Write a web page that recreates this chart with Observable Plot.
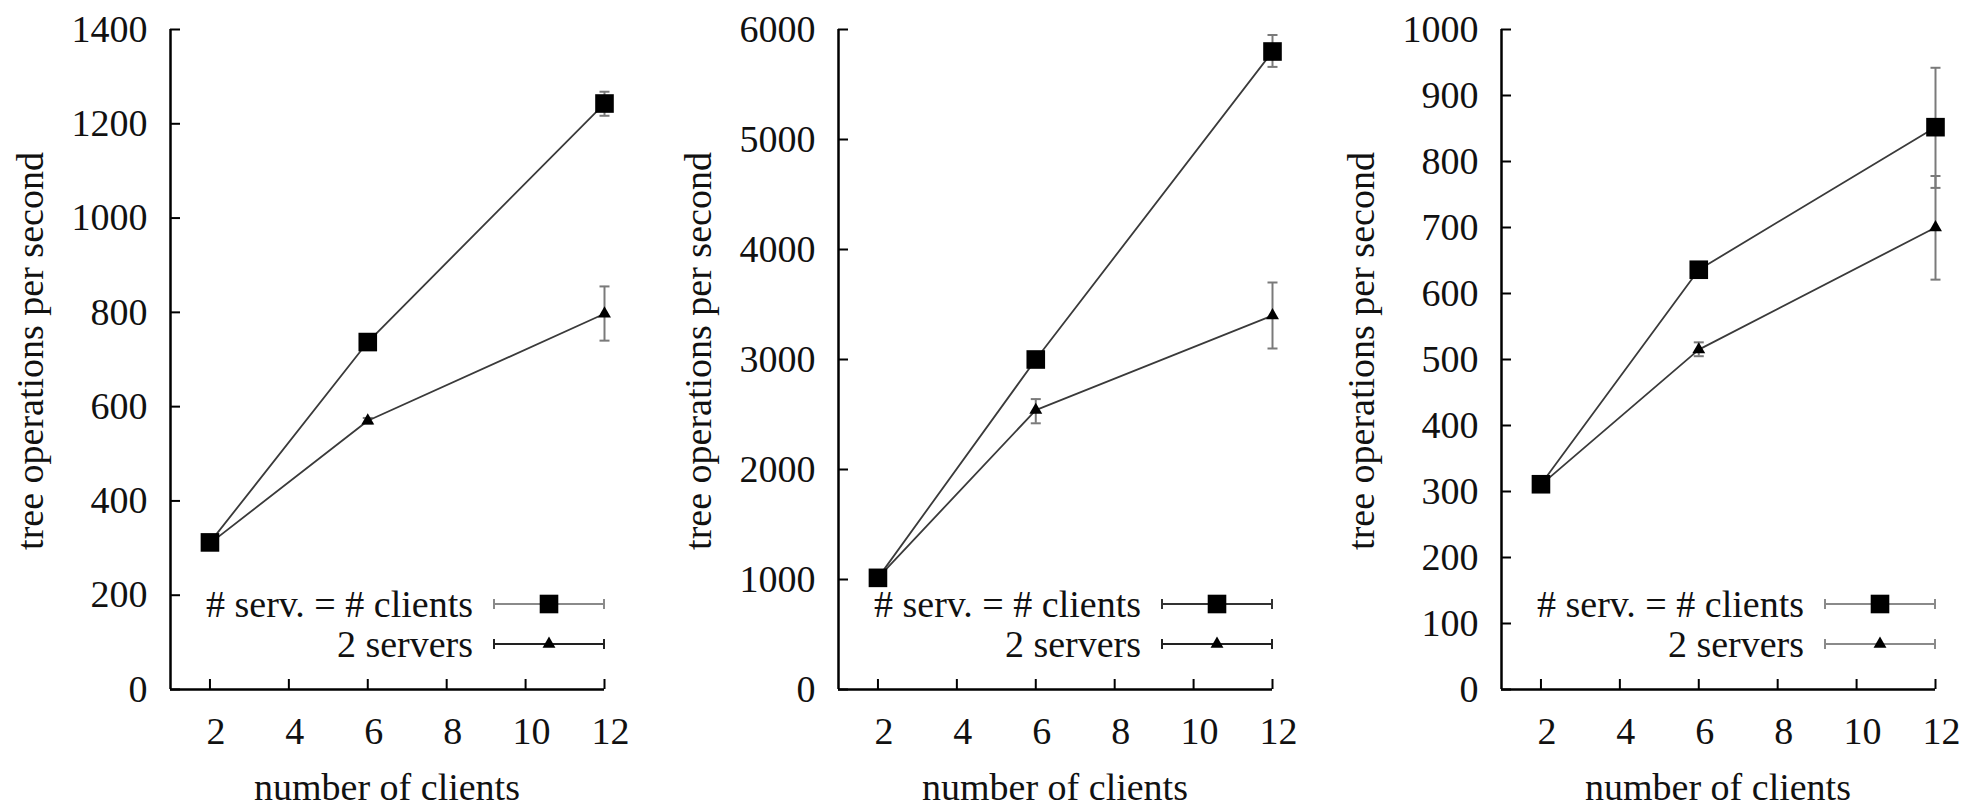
<!DOCTYPE html>
<html><head><meta charset="utf-8">
<script src="https://cdn.jsdelivr.net/npm/d3@7"></script>
<script src="https://cdn.jsdelivr.net/npm/@observablehq/plot@0.6"></script>
<style>
html,body{margin:0;padding:0;background:#fff;overflow:hidden;}
#wrap{position:relative;width:1963px;height:806px;}
#wrap svg{position:absolute;top:0;}
</style></head><body><div id="wrap"></div>
<script>
// ---- data ----
const clients = [2, 6, 12];
const seriesNames = ["# serv. = # clients", "2 servers"];
const xTicks = [2, 4, 6, 8, 10, 12];
const xLabel = "number of clients";
const yLabel = "tree operations per second";

// panel 1
const p1Equal   = [312, 737, 1243];
const p1EqualLo = [308, 730, 1217];
const p1EqualHi = [316, 744, 1268];
const p1Two     = [310, 570, 797];
const p1TwoLo   = [306, 564, 740];
const p1TwoHi   = [314, 576, 855];
const p1YTicks  = [0, 200, 400, 600, 800, 1000, 1200, 1400];

// panel 2
const p2Equal   = [1015, 3000, 5800];
const p2EqualLo = [990, 2960, 5660];
const p2EqualHi = [1040, 3040, 5950];
const p2Two     = [1015, 2540, 3400];
const p2TwoLo   = [990, 2420, 3100];
const p2TwoHi   = [1040, 2640, 3700];
const p2YTicks  = [0, 1000, 2000, 3000, 4000, 5000, 6000];

// panel 3
const p3Equal   = [311, 636, 852];
const p3EqualLo = [307, 627, 760];
const p3EqualHi = [315, 646, 942];
const p3Two     = [310, 515, 700];
const p3TwoLo   = [306, 505, 621];
const p3TwoHi   = [314, 526, 778];
const p3YTicks  = [0, 100, 200, 300, 400, 500, 600, 700, 800, 900, 1000];

const panels = [
  {left: 0,    width: 655, mr: 51, eq: [p1Equal, p1EqualLo, p1EqualHi], two: [p1Two, p1TwoLo, p1TwoHi], yTicks: p1YTicks, legendStroke: ["#8a8a8a", "#222"]},
  {left: 668,  width: 655, mr: 51, eq: [p2Equal, p2EqualLo, p2EqualHi], two: [p2Two, p2TwoLo, p2TwoHi], yTicks: p2YTicks, legendStroke: ["#333", "#222"]},
  {left: 1331, width: 632, mr: 28, eq: [p3Equal, p3EqualLo, p3EqualHi], two: [p3Two, p3TwoLo, p3TwoHi], yTicks: p3YTicks, legendStroke: ["#8a8a8a", "#8a8a8a"]}
];

// ---- drawing ----
const FONT = "'Liberation Serif', 'DejaVu Serif', serif";
const H = 806, MT = 29, MB = 117, ML = 170;
const cap = {draw(ctx, size) { const r = Math.sqrt(size / Math.PI); ctx.moveTo(-r, 0); ctx.lineTo(r, 0); }};
const SQ_R = 10.5, TR_R = 4.8;
const lineColor = "#3a3a3a", errColor = "#7a7a7a";

const wrap = document.getElementById("wrap");

panels.forEach(p => {
  const rows = [];
  clients.forEach((c, i) => {
    rows.push({x: c, y: p.eq[0][i], lo: p.eq[1][i], hi: p.eq[2][i], s: seriesNames[0]});
  });
  clients.forEach((c, i) => {
    rows.push({x: c, y: p.two[0][i], lo: p.two[1][i], hi: p.two[2][i], s: seriesNames[1]});
  });
  const eqRows = rows.filter(d => d.s === seriesNames[0]);
  const twoRows = rows.filter(d => d.s === seriesNames[1]);
  const frameW = p.width - ML - p.mr, frameH = H - MT - MB;
  const yMax = p.yTicks[p.yTicks.length - 1];

  const chart = Plot.plot({
    width: p.width, height: H,
    marginLeft: ML, marginRight: p.mr, marginTop: MT, marginBottom: MB,
    style: {fontFamily: FONT, fontSize: "38px", color: "#111", background: "transparent", overflow: "visible"},
    x: {domain: [1, 12]},
    y: {domain: [0, yMax]},
    marks: [
      Plot.axisY({ticks: p.yTicks, tickSize: 0, tickPadding: 23, tickFormat: d3.format("d"), label: null}),
      Plot.axisX({ticks: xTicks, tickSize: 0, tickPadding: 28, tickFormat: d3.format("d"), label: null, dx: 6}),
      Plot.tickY(p.yTicks, {y: d => d, insetRight: frameW - 10, stroke: "#000", strokeWidth: 2}),
      Plot.tickX(xTicks, {x: d => d, insetTop: frameH - 10, stroke: "#000", strokeWidth: 2}),
      Plot.ruleX([1], {stroke: "#000", strokeWidth: 2.5}),
      Plot.ruleY([0], {stroke: "#000", strokeWidth: 2.5}),
      Plot.ruleX(rows, {x: "x", y1: "lo", y2: "hi", stroke: errColor, strokeWidth: 2}),
      Plot.dot(rows, {x: "x", y: "lo", symbol: cap, r: 5, fill: "none", stroke: errColor, strokeWidth: 2}),
      Plot.dot(rows, {x: "x", y: "hi", symbol: cap, r: 5, fill: "none", stroke: errColor, strokeWidth: 2}),
      Plot.line(rows, {x: "x", y: "y", z: "s", stroke: lineColor, strokeWidth: 1.8}),
      Plot.dot(eqRows, {x: "x", y: "y", symbol: "square", r: SQ_R, fill: "#000"}),
      Plot.dot(twoRows, {x: "x", y: "y", symbol: "triangle", r: TR_R, fill: "#000"})
    ]
  });
  chart.style.left = p.left + "px";
  wrap.appendChild(chart);

  const svg = d3.select(chart);
  const xr = p.width - p.mr, yb = H - MB;
  // axis titles
  svg.append("text").attr("transform", `translate(43,351) rotate(-90)`)
    .attr("text-anchor", "middle").attr("font-family", FONT).attr("font-size", 38).attr("fill", "#111")
    .text(yLabel);
  svg.append("text").attr("x", ML + frameW / 2).attr("y", 800)
    .attr("text-anchor", "middle").attr("font-family", FONT).attr("font-size", 38).attr("fill", "#111")
    .text(xLabel);
  // legend
  const rowsY = [yb - 85, yb - 45];
  const syms = [d3.symbol(d3.symbolSquare, SQ_R * SQ_R * Math.PI), d3.symbol(d3.symbolTriangle, TR_R * TR_R * Math.PI)];
  seriesNames.forEach((name, i) => {
    const g = svg.append("g");
    const y = rowsY[i];
    g.append("text").attr("x", xr - 131).attr("y", y + 13).attr("text-anchor", "end")
      .attr("font-family", FONT).attr("font-size", 38).attr("fill", "#111").text(name);
    const st = p.legendStroke[i];
    g.append("line").attr("x1", xr - 110).attr("x2", xr).attr("y1", y).attr("y2", y).attr("stroke", st).attr("stroke-width", 2);
    [xr - 110, xr].forEach(cx => g.append("line").attr("x1", cx).attr("x2", cx).attr("y1", y - 5).attr("y2", y + 5).attr("stroke", st).attr("stroke-width", 2));
    g.append("path").attr("d", syms[i]()).attr("transform", `translate(${xr - 55},${y})`).attr("fill", "#000");
  });
});
</script></body></html>
